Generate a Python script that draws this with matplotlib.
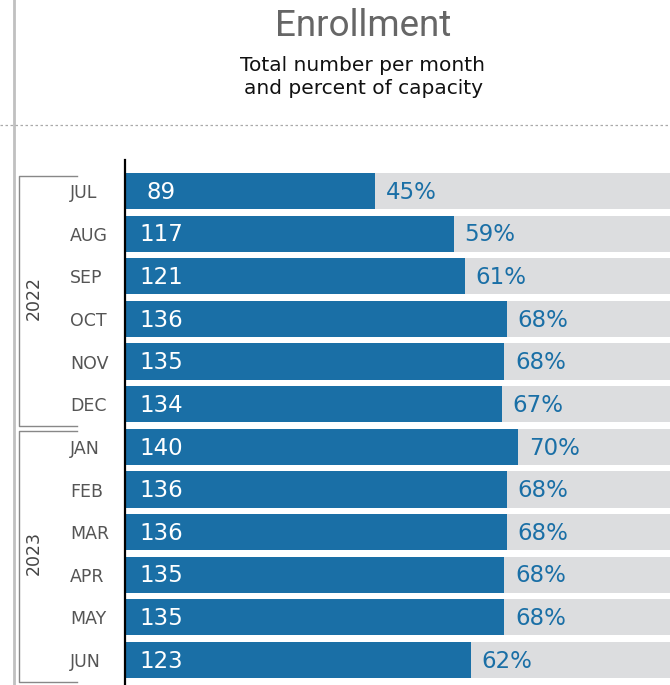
import matplotlib
matplotlib.use("Agg")
import matplotlib.pyplot as plt
from matplotlib.transforms import blended_transform_factory
from matplotlib.lines import Line2D

months = ["JUL", "AUG", "SEP", "OCT", "NOV", "DEC",
          "JAN", "FEB", "MAR", "APR", "MAY", "JUN"]
enrolled = [89, 117, 121, 136, 135, 134, 140, 136, 136, 135, 135, 123]
percent = [45, 59, 61, 68, 68, 67, 70, 68, 68, 68, 68, 62]
capacity = 200
years = ["2022", "2023"]
year_rows = [(0, 5), (6, 11)]

blue = "#1a6fa6"
grey_bar = "#dcdddf"

plt.rcParams["font.family"] = ["DejaVu Sans"]

fig = plt.figure(figsize=(6.7, 6.85), dpi=100)
ax = fig.add_axes([125 / 670, 0, 545 / 670, 1 - 160 / 685])

y = list(range(len(months)))
ax.barh(y, [capacity] * len(months), height=0.85, color=grey_bar)
ax.barh(y, enrolled, height=0.85, color=blue)

ax.set_xlim(0, 545 / 2.81)
ax.set_ylim(11 + 25 / 42.6, -31 / 42.6)

for i, (v, p) in enumerate(zip(enrolled, percent)):
    ax.text(12.9, i + 0.03, str(v), color="white", fontsize=16.5, ha="center", va="center")
    ax.text(v + 3.8, i + 0.03, f"{p}%", color=blue, fontsize=16.5, ha="left", va="center")

for s in ["top", "right", "bottom"]:
    ax.spines[s].set_visible(False)
ax.spines["left"].set_linewidth(1.6)
ax.spines["left"].set_color("black")
ax.set_xticks([])
ax.set_yticks([])

# month labels and year brackets
tr = blended_transform_factory(fig.transFigure, ax.transData)
for i, m in enumerate(months):
    ax.text(70 / 670, i + 0.05, m, transform=tr, ha="left", va="center",
            fontsize=12.5, color="#555555", clip_on=False)

for yr, (a, b) in zip(years, year_rows):
    top = a - 0.36
    bot = b + 0.52
    x0, x1 = 19 / 670, 77 / 670
    ax.add_line(Line2D([x1, x0, x0, x1], [top, top, bot, bot], transform=tr,
                       color="#888888", lw=1.0, clip_on=False))
    ax.text(34 / 670, (a + b) / 2, yr, transform=tr, rotation=90, ha="center",
            va="center", fontsize=12.5, color="#444444", clip_on=False)

# page decorations
fig.add_artist(Line2D([14 / 670, 14 / 670], [0, 1], color="#c0c0c0", lw=2))
fig.add_artist(Line2D([0, 1], [1 - 125 / 685] * 2, color="#aaaaaa", lw=0.9,
                      linestyle=(0, (2, 2))))

fig.text(363 / 670, 1 - 36 / 685, "Enrollment", ha="center", va="baseline",
         fontsize=26.5, color="#666666", family=["Roboto", "DejaVu Sans"])
fig.text(363 / 670, 1 - 71 / 685, "Total number per month", ha="center",
         va="baseline", fontsize=14.5, color="#111111")
fig.text(363 / 670, 1 - 94 / 685, "and percent of capacity", ha="center",
         va="baseline", fontsize=14.5, color="#111111")

fig.savefig("out.png", dpi=100)
